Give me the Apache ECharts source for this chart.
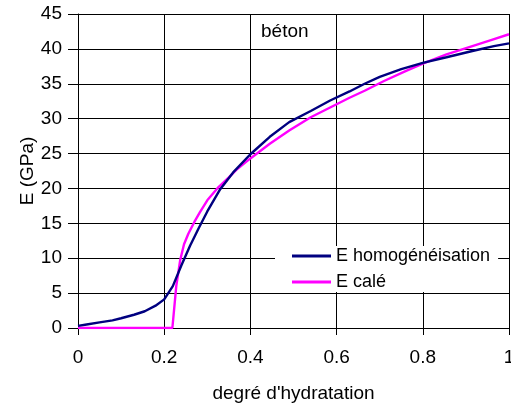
<!DOCTYPE html>
<html>
<head>
<meta charset="utf-8">
<script src="https://cdn.jsdelivr.net/npm/echarts@6/dist/echarts.min.js"></script>
<style>
  html, body { margin: 0; padding: 0; background: #fff; }
  #chart { width: 511px; height: 405px; }
</style>
</head>
<body>
<div id="chart"></div>
<script>
// E homogénéisation: [degré d'hydratation, E (GPa)]
const homogData = [
    [0, 0.3], [0.02, 0.5], [0.05, 0.8], [0.08, 1.1], [0.1, 1.4], [0.13, 1.9],
    [0.155, 2.4], [0.18, 3.2], [0.2, 4.1], [0.22, 6.0], [0.24, 9.0], [0.26, 11.8],
    [0.28, 14.3], [0.3, 16.7], [0.33, 19.9], [0.36, 22.3], [0.4, 24.9], [0.445, 27.4],
    [0.49, 29.5], [0.54, 31.1], [0.585, 32.6], [0.63, 33.9], [0.665, 35.0], [0.7, 36.0],
    [0.75, 37.1], [0.8, 38.0], [0.855, 38.8], [0.915, 39.7], [0.965, 40.4], [1.0, 40.8]
];

// E calé
const caleData = [
    [0, 0], [0.219, 0], [0.228, 6.0], [0.237, 9.7], [0.246, 12.0], [0.256, 13.5],
    [0.27, 15.2], [0.283, 16.6], [0.3, 18.3], [0.326, 20.2], [0.35, 21.6], [0.368, 22.7],
    [0.4, 24.3], [0.445, 26.4], [0.49, 28.3], [0.54, 30.2], [0.585, 31.6], [0.63, 33.0],
    [0.665, 34.0], [0.71, 35.4], [0.76, 36.8], [0.8, 37.9], [0.855, 39.2], [0.915, 40.4],
    [0.96, 41.3], [1.0, 42.1]
];

const seriesNames = ['E homogénéisation', 'E calé'];

const font = 'Liberation Sans, Arial, sans-serif';
const chart = echarts.init(document.getElementById('chart'));

chart.setOption({
    animation: false,
    grid: { left: 78, right: 2, top: 14, bottom: 77, containLabel: false, outerBoundsMode: 'none' },
    xAxis: {
        type: 'value',
        min: 0, max: 1, interval: 0.2,
        name: "degré d'hydratation",
        nameLocation: 'middle',
        nameGap: 56,
        nameMoveOverlap: false,
        nameTextStyle: { color: '#000', fontSize: 19, fontFamily: font },
        axisLine: { show: true, onZero: false, lineStyle: { color: '#000', width: 1 } },
        axisTick: { show: true, length: 7, lineStyle: { color: '#000' } },
        axisLabel: { color: '#000', fontSize: 19, fontFamily: font, margin: 20, showMaxLabel: true },
        splitLine: { show: true, lineStyle: { color: '#000', width: 1 } }
    },
    yAxis: {
        type: 'value',
        min: 0, max: 45, interval: 5,
        name: 'E (GPa)',
        nameLocation: 'middle',
        nameGap: 41,
        nameMoveOverlap: false,
        nameTextStyle: { color: '#000', fontSize: 19, fontFamily: font },
        axisLine: { show: true, lineStyle: { color: '#000', width: 1 } },
        axisTick: { show: true, length: 10, lineStyle: { color: '#000' } },
        axisLabel: { color: '#000', fontSize: 19, fontFamily: font, margin: 16 },
        splitLine: { show: true, lineStyle: { color: '#000', width: 1 } }
    },
    legend: {
        orient: 'vertical',
        left: 275,
        top: 246,
        padding: [1, 8, 1, 17],
        backgroundColor: '#fff',
        icon: 'rect',
        itemWidth: 39,
        itemHeight: 3,
        itemGap: 8,
        textStyle: { color: '#000', fontSize: 18, fontFamily: font },
        data: seriesNames
    },
    graphic: [{
        type: 'text',
        x: 261,
        y: 32,
        style: { text: 'béton', fill: '#000', fontSize: 19, fontFamily: font, verticalAlign: 'middle' }
    }],
    series: [
        {
            name: seriesNames[0],
            type: 'line',
            data: homogData,
            showSymbol: false,
            symbol: 'none',
            lineStyle: { color: '#000080', width: 2.4 },
            itemStyle: { color: '#000080' },
            z: 3
        },
        {
            name: seriesNames[1],
            type: 'line',
            data: caleData,
            showSymbol: false,
            symbol: 'none',
            lineStyle: { color: '#ff00ff', width: 2.4 },
            itemStyle: { color: '#ff00ff' },
            z: 2
        }
    ]
});
</script>
</body>
</html>
